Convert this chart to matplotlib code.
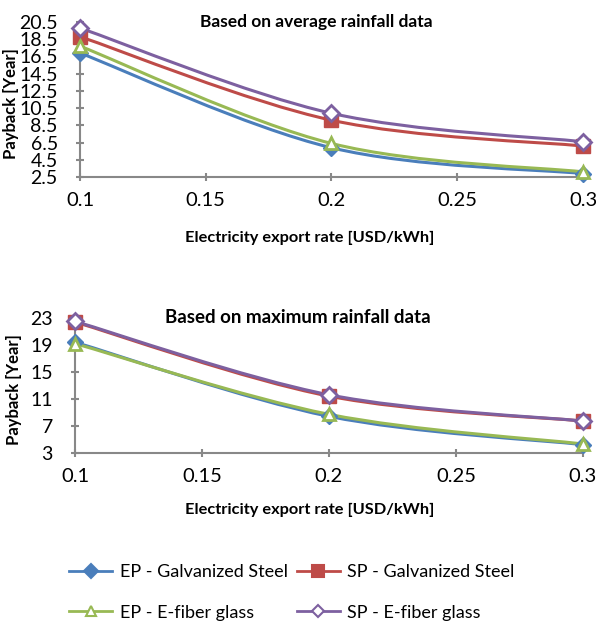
import matplotlib
matplotlib.use('Agg')
import matplotlib.pyplot as plt
from matplotlib.path import Path
from matplotlib.patches import PathPatch

plt.rcParams['font.family'] = ['Lato', 'DejaVu Sans']

rate = [0.1, 0.2, 0.3]

# average rainfall data
avg_ep_gs = [16.9, 5.9, 2.9]
avg_sp_gs = [18.8, 9.1, 6.1]
avg_ep_fg = [17.7, 6.4, 3.1]
avg_sp_fg = [19.8, 9.9, 6.6]

# maximum rainfall data
max_ep_gs = [19.4, 8.4, 4.2]
max_sp_gs = [22.4, 11.4, 7.7]
max_ep_fg = [19.2, 8.7, 4.3]
max_sp_fg = [22.5, 11.6, 7.7]

labels = ['EP - Galvanized Steel', 'SP - Galvanized Steel',
          'EP - E-fiber glass', 'SP - E-fiber glass']
colors = ['#4A7EBB', '#BE4B48', '#98B954', '#7D60A0']
markers = ['D', 's', '^', 'D']
msizes = [8, 10.5, 8, 8.5]
filled = [True, True, False, False]


def smooth_path(x, y):
    # Excel-like smoothed line via cubic Bezier segments in data space
    pts = list(zip(x, y))
    n = len(pts)
    verts = [pts[0]]
    codes = [Path.MOVETO]
    for i in range(n - 1):
        p0 = pts[max(i - 1, 0)]
        p1 = pts[i]
        p2 = pts[i + 1]
        p3 = pts[min(i + 2, n - 1)]
        c1 = (p1[0] + (p2[0] - p0[0]) / 6, p1[1] + (p2[1] - p0[1]) / 6)
        c2 = (p2[0] - (p3[0] - p1[0]) / 6, p2[1] - (p3[1] - p1[1]) / 6)
        verts += [c1, c2, p2]
        codes += [Path.CURVE4] * 3
    return Path(verts, codes)


def draw(ax, series, ylim, yticks, title, title_x, title_size):
    for s, c, m, ms, f in zip(series, colors, markers, msizes, filled):
        ax.add_patch(PathPatch(smooth_path(rate, s), fill=False, edgecolor=c,
                               lw=2.2, zorder=2))
        ax.plot(rate, s, ls='none', marker=m, ms=ms, color=c,
                mfc=c if f else 'white', mec=c, mew=2 if not f else 1,
                zorder=3, clip_on=False)
    ax.set_xlim(0.1, 0.3)
    ax.set_ylim(*ylim)
    ax.set_xticks([0.1, 0.15, 0.2, 0.25, 0.3])
    ax.set_xticklabels(['0.1', '0.15', '0.2', '0.25', '0.3'])
    ax.set_yticks(yticks)
    ax.set_yticklabels([('%g' % v) for v in yticks])
    for sp in ['top', 'right']:
        ax.spines[sp].set_visible(False)
    for sp in ['left', 'bottom']:
        ax.spines[sp].set_color('#888888')
        ax.spines[sp].set_linewidth(1.5)
    ax.tick_params(axis='both', colors='#888888', labelcolor='black',
                   labelsize=14.5, length=6, width=1.5, direction='inout')
    ax.tick_params(axis='x', pad=8)
    ax.tick_params(axis='y', pad=13, labelsize=14)
    ax.set_xlabel('Electricity export rate [USD/kWh]', fontsize=11.8,
                  fontweight='bold')
    ax.set_ylabel('Payback [Year]', fontsize=12, fontweight='bold')
    ax.text(title_x, 1.0, title, transform=ax.transAxes, ha='center',
            va='center', fontsize=title_size, fontweight='bold')


fig = plt.figure(figsize=(5.96, 6.24), dpi=100)
ax1 = fig.add_axes([0.1342, 0.7163, 0.844, 0.2484])
ax2 = fig.add_axes([0.1258, 0.2745, 0.8523, 0.2159])

draw(ax1, [avg_ep_gs, avg_sp_gs, avg_ep_fg, avg_sp_fg], (2.5, 20.5),
     [2.5, 4.5, 6.5, 8.5, 10.5, 12.5, 14.5, 16.5, 18.5, 20.5],
     'Based on average rainfall data', 0.47, 12.5)
draw(ax2, [max_ep_gs, max_sp_gs, max_ep_fg, max_sp_fg], (3, 23),
     [3, 7, 11, 15, 19, 23], 'Based on maximum rainfall data', 0.438, 13.5)
ax1.xaxis.set_label_coords(0.456, -0.35)
ax2.xaxis.set_label_coords(0.463, -0.37)
ax1.yaxis.set_label_coords(-0.122, 0.477)
ax2.yaxis.set_label_coords(-0.104, 0.47)

leg_handles = []
leg_sizes = [7, 8.5, 6.5, 6.5]
for c, m, f, ms in zip(colors, markers, filled, leg_sizes):
    h, = fig.axes[0].plot([], [], color=c, lw=2, marker=m, ms=ms,
                          mfc=c if f else 'white', mec=c, mew=1.5)
    leg_handles.append(h)
# matplotlib fills legend columns first: reorder so rows read EP/SP
order = [0, 2, 1, 3]
fig.legend([leg_handles[i] for i in order], [labels[i] for i in order],
           loc='center left', bbox_to_anchor=(69 / 596, 0.0505),
           borderaxespad=0, borderpad=0,
           ncol=2, frameon=False, fontsize=13, handlelength=2.4,
           handletextpad=0.4, columnspacing=0.5, labelspacing=1.35)

fig.savefig('out.png', dpi=100)
